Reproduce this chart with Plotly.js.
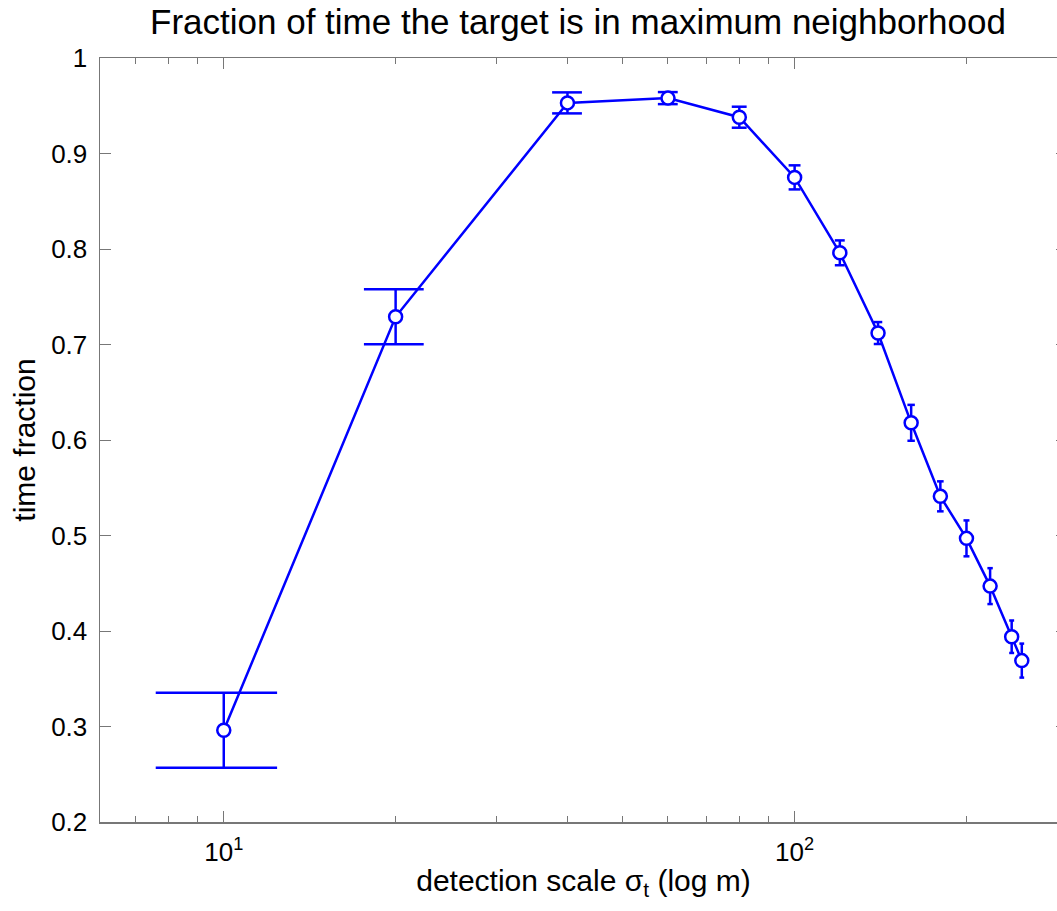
<!DOCTYPE html>
<html>
<head>
<meta charset="utf-8">
<script src="https://cdn.plot.ly/plotly-3.0.1.min.js"></script>
<style>
html, body { margin: 0; padding: 0; overflow: hidden; background: #fff; }
#chart { width: 1070px; height: 911px; }
</style>
</head>
<body>
<div id="chart"></div>
<script>
// Data
const sigma = [10, 20, 40, 60, 80, 100, 120, 140, 160, 180, 200, 220, 240, 250];
const fraction = [0.296, 0.729, 0.953, 0.958, 0.938, 0.875, 0.796, 0.712, 0.618, 0.541, 0.497, 0.447, 0.394, 0.369];
const errors = [0.0393, 0.0288, 0.011, 0.0063, 0.011, 0.0126, 0.013, 0.0115, 0.0188, 0.0157, 0.0188, 0.0188, 0.017, 0.0178];
const xMajorTicks = [10, 100];
const xMajorLabels = ['10<sup>1</sup>', '10<sup>2</sup>'];
const xMinorTicks = [7, 8, 9, 20, 30, 40, 50, 60, 70, 80, 90, 200, 300];
const yTicks = [0.2, 0.3, 0.4, 0.5, 0.6, 0.7, 0.8, 0.9, 1];

// MATLAB-style error bars: cap half-width in data units = (max(x)-min(x))/100
const tee = (Math.max(...sigma) - Math.min(...sigma)) / 100;
const ex = [], ey = [];
sigma.forEach((s, i) => {
  const lo = fraction[i] - errors[i], hi = fraction[i] + errors[i];
  ex.push(s, s, null, s - tee, s + tee, null, s - tee, s + tee, null);
  ey.push(lo, hi, null, hi, hi, null, lo, lo, null);
});

const blue = '#0000ff';
const axisColor = '#777777';
const tickFont = { family: 'Liberation Sans, Arial, sans-serif', size: 26, color: '#000' };
const titleFamily = 'Liberation Sans, Arial, sans-serif';

const traces = [
  {
    x: ex, y: ey, mode: 'lines', type: 'scatter',
    line: { color: blue, width: 2.5 }, hoverinfo: 'skip', showlegend: false
  },
  {
    x: sigma, y: fraction, mode: 'lines+markers', type: 'scatter',
    line: { color: blue, width: 2.5 },
    marker: { symbol: 'circle', size: 13, color: '#fff', line: { color: blue, width: 2.5 } },
    showlegend: false
  }
];

const layout = {
  width: 1070, height: 911,
  paper_bgcolor: '#fff', plot_bgcolor: '#fff',
  margin: { l: 100, r: 3, t: 58, b: 89 },
  title: {
    text: 'Fraction of time the target is in maximum neighborhood',
    font: { family: titleFamily, size: 35, color: '#000' },
    x: 578 / 1070, xref: 'container', xanchor: 'center',
    y: 1 - 22 / 911, yref: 'container', yanchor: 'middle'
  },
  xaxis: {
    type: 'log',
    range: [Math.log10(6.07), Math.log10(300)],
    tickmode: 'array', tickvals: xMajorTicks, ticktext: xMajorLabels,
    ticks: 'inside', ticklen: 11, tickwidth: 1, tickcolor: axisColor,
    minor: { tickmode: 'array', tickvals: xMinorTicks, ticks: 'inside', ticklen: 6, tickwidth: 1, tickcolor: axisColor, showgrid: false },
    showline: true, linecolor: axisColor, linewidth: 1.5, mirror: 'ticks',
    showgrid: false, zeroline: false,
    tickfont: tickFont, ticklabelstandoff: 6,
    title: { text: 'detection scale σ<sub>t</sub> (log m)', font: { family: titleFamily, size: 30, color: '#000' }, standoff: 4 }
  },
  yaxis: {
    range: [0.2, 1],
    tickmode: 'array', tickvals: yTicks, ticktext: yTicks.map(v => String(v)),
    ticks: 'inside', ticklen: 11, tickwidth: 1, tickcolor: axisColor,
    showline: true, linecolor: axisColor, linewidth: 1.5, mirror: 'ticks',
    showgrid: false, zeroline: false,
    tickfont: tickFont, ticklabelstandoff: 6,
    title: { text: 'time fraction', font: { family: titleFamily, size: 30, color: '#000' }, standoff: 6 }
  }
};

Plotly.newPlot('chart', traces, layout, { displayModeBar: false, staticPlot: true });
</script>
</body>
</html>
